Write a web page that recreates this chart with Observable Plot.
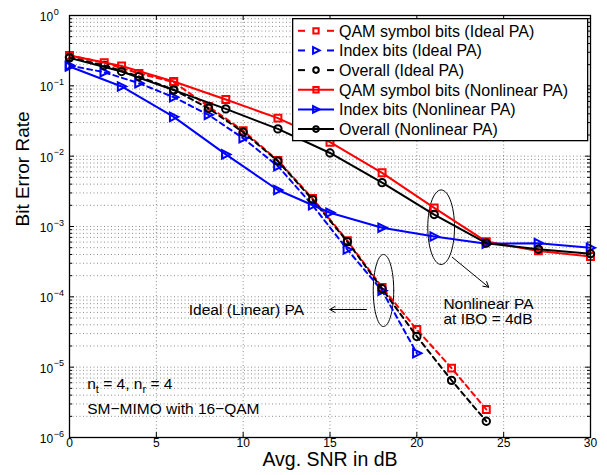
<!DOCTYPE html>
<html><head><meta charset="utf-8">
<script src="https://cdn.jsdelivr.net/npm/d3@7"></script>
<script src="https://cdn.jsdelivr.net/npm/@observablehq/plot@0.6"></script>
<style>
body{margin:0;background:#fff;}
#wrap{position:relative;width:607px;height:475px;font-family:"Liberation Sans",Arial,sans-serif;}
#legend{position:absolute;left:292px;top:18px;}
</style>
</head><body><div id="wrap"></div>
<script>
// ---- data ----
const snrIdeal = [0, 2, 4, 6, 8, 10, 12, 14, 16, 18, 20, 22, 24];
const qamIdeal = [0.27, 0.214, 0.150, 0.113, 0.051, 0.023, 0.0087, 0.0025, 6.3e-4, 1.36e-4, 3.43e-5, 9.7e-6, 2.5e-6];
const indexIdeal = [0.195, 0.156, 0.109, 0.069, 0.0387, 0.018, 0.0072, 0.0020, 4.7e-4, 1.22e-4, 1.58e-5];
const overallIdeal = [0.256, 0.195, 0.136, 0.088, 0.048, 0.0219, 0.0085, 0.0024, 6.1e-4, 1.3e-4, 2.73e-5, 6.5e-6, 1.7e-6];

const snrNonlinear = [0, 3, 6, 9, 12, 15, 18, 21, 24, 27, 30];
const qamNonlinear = [0.27, 0.191, 0.115, 0.064, 0.0347, 0.0158, 0.0058, 0.00184, 6.1e-4, 4.5e-4, 3.75e-4];
const indexNonlinear = [0.188, 0.098, 0.0362, 0.0106, 0.0033, 0.00157, 9.6e-4, 7.2e-4, 5.7e-4, 5.8e-4, 4.97e-4];
const overallNonlinear = [0.25, 0.16, 0.087, 0.047, 0.0244, 0.0111, 0.0042, 0.00148, 5.8e-4, 4.75e-4, 4.1e-4];

const seriesNames = [
  "QAM symbol bits (Ideal PA)", "Index bits (Ideal PA)", "Overall (Ideal PA)",
  "QAM symbol bits (Nonlinear PA)", "Index bits (Nonlinear PA)", "Overall (Nonlinear PA)"
];
const xTicks = [0, 5, 10, 15, 20, 25, 30];
const yExponents = [0, -1, -2, -3, -4, -5, -6];
const xLabel = "Avg. SNR in dB";
const yLabel = "Bit Error Rate";
const noteIdeal = "Ideal (Linear) PA";
const noteNonlinear1 = "Nonlinear PA";
const noteNonlinear2 = "at IBO = 4dB";
const noteSystem1 = "nt = 4, nr = 4";
const noteSystem2 = "SM\u2212MIMO with 16\u2212QAM";

// ---- styles ----
const triangleRight = {
  draw(ctx, size) {
    const w = Math.sqrt(size) * 1.15;
    ctx.moveTo(w * 0.55, 0);
    ctx.lineTo(-w * 0.45, -w * 0.5);
    ctx.lineTo(-w * 0.45, w * 0.5);
    ctx.closePath();
  }
};
const styles = [
  {color: "#ff0000", dash: "5,4", symbol: "square", r: 3.9},
  {color: "#0000ff", dash: "5,4", symbol: triangleRight, r: 4.1},
  {color: "#000000", dash: "5,4", symbol: "circle", r: 3.7},
  {color: "#ff0000", dash: null, symbol: "square", r: 3.9},
  {color: "#0000ff", dash: null, symbol: triangleRight, r: 4.1},
  {color: "#000000", dash: null, symbol: "circle", r: 3.7}
];
const seriesData = [
  [snrIdeal, qamIdeal], [snrIdeal, indexIdeal], [snrIdeal, overallIdeal],
  [snrNonlinear, qamNonlinear], [snrNonlinear, indexNonlinear], [snrNonlinear, overallNonlinear]
];
const series = seriesData.map(([xs, ys], i) => ({
  name: seriesNames[i], ...styles[i],
  rows: xs.slice(0, ys.length).map((x, j) => ({x, y: ys[j]}))
}));

// grid values
const yMajor = yExponents.map(e => Math.pow(10, e));
const yMinor = [];
for (let e = -6; e < 0; e++) for (let m = 2; m <= 9; m++) yMinor.push(m * Math.pow(10, e));

// annotation shapes (ellipses in data space)
function ellipse(cx, clog, rx, rlog) {
  const pts = [];
  for (let a = 0; a <= 360; a += 6) {
    const t = a * Math.PI / 180;
    pts.push({x: cx + rx * Math.cos(t), y: Math.pow(10, clog + rlog * Math.sin(t))});
  }
  return pts;
}
const ellipseIdeal = ellipse(18.08, -3.91, 0.59, 0.512);
const ellipseNonlinear = ellipse(21.4, -3.01, 0.77, 0.53);
const arrows = [
  {x1: 22.04, y1: Math.pow(10, -3.437), x2: 24.14, y2: Math.pow(10, -3.863)},
  {x1: 17.1, y1: Math.pow(10, -4.18), x2: 14.99, y2: Math.pow(10, -4.18)}
];
const notes = [
  {x: 21.53, y: Math.pow(10, -4.098), text: noteNonlinear1},
  {x: 21.53, y: Math.pow(10, -4.318), text: noteNonlinear2},
  {x: 6.87, y: Math.pow(10, -4.183), text: noteIdeal},
  {x: 1.02, y: Math.pow(10, -5.245), text: noteSystem1},
  {x: 1.02, y: Math.pow(10, -5.60), text: noteSystem2}
];

const W = 607, H = 475, ML = 69, MR = 17, MT = 15, MB = 38;
const FW = W - ML - MR, FH = H - MT - MB;

const marks = [
  Plot.ruleY(yMinor, {y: d => d, stroke: "#000", strokeOpacity: 0.45, strokeDasharray: "1,2.5"}),
  Plot.ruleY(yMajor.slice(1, -1), {y: d => d, stroke: "#000", strokeOpacity: 0.45, strokeDasharray: "1,2.5"}),
  Plot.ruleX(xTicks.slice(1, -1), {x: d => d, stroke: "#000", strokeOpacity: 0.45, strokeDasharray: "1,2.5"}),
  // inward ticks
  Plot.tickX(xTicks, {x: d => d, insetTop: FH - 5, stroke: "#000"}),
  Plot.tickX(xTicks, {x: d => d, insetBottom: FH - 5, stroke: "#000"}),
  Plot.tickY(yMajor, {y: d => d, insetRight: FW - 5, stroke: "#000"}),
  Plot.tickY(yMajor, {y: d => d, insetLeft: FW - 5, stroke: "#000"}),
  Plot.tickY(yMinor, {y: d => d, insetRight: FW - 3, stroke: "#000"}),
  Plot.tickY(yMinor, {y: d => d, insetLeft: FW - 3, stroke: "#000"}),
  // annotations
  Plot.line(ellipseIdeal, {x: "x", y: "y", stroke: "#000", strokeWidth: 1}),
  Plot.line(ellipseNonlinear, {x: "x", y: "y", stroke: "#000", strokeWidth: 1}),
  Plot.arrow(arrows, {x1: "x1", y1: "y1", x2: "x2", y2: "y2", stroke: "#000", strokeWidth: 1, headLength: 9}),
  Plot.text(notes, {x: "x", y: "y", text: "text", textAnchor: "start", fontSize: 15.5, fill: "#000"}),
];
for (const s of series) {
  marks.push(Plot.line(s.rows, {x: "x", y: "y", stroke: s.color, strokeWidth: 2, strokeDasharray: s.dash}));
  marks.push(Plot.dot(s.rows, {x: "x", y: "y", symbol: s.symbol, r: s.r, stroke: s.color, strokeWidth: 2, fill: "none"}));
}
marks.push(
  Plot.frame({stroke: "#000", strokeWidth: 1.3}),
  // tick labels
  Plot.text(xTicks, {x: d => d, text: d => String(d), frameAnchor: "bottom", dy: 9, fontSize: 12, fill: "#000"}),
  Plot.text(yMajor, {y: d => d, text: () => "10", frameAnchor: "left", dx: -16.3, dy: 1.5, textAnchor: "end", fontSize: 12, fill: "#000"}),
  Plot.text(yMajor, {y: d => d, text: (d, i) => String(yExponents[i]).replace("-", "\u2212"), frameAnchor: "left", dx: -15.8, dy: -3.6, textAnchor: "start", fontSize: 9, fill: "#000"}),
  Plot.text([xLabel], {text: d => d, frameAnchor: "bottom", dy: 28.8, fontSize: 19.5, fill: "#000"}),
  Plot.text([yLabel], {text: d => d, frameAnchor: "left", dx: -46.8, rotate: -90, fontSize: 19, fill: "#000"})
);

const chart = Plot.plot({
  width: W, height: H,
  marginLeft: ML, marginRight: MR, marginTop: MT, marginBottom: MB,
  style: {fontFamily: "'Liberation Sans', Arial, sans-serif", background: "#fff", overflow: "visible"},
  x: {domain: [0, 30], axis: null},
  y: {type: "log", domain: [1e-6, 1], axis: null},
  marks
});

// subscripts for n_t, n_r
d3.select(chart).selectAll("text").filter(function () { return this.textContent === noteSystem1; })
  .each(function () {
    const t = d3.select(this);
    t.text(null);
    const parts = [["n", 0], ["t", 1], [" = 4, n", -1], ["r", 1], [" = 4", -1]];
    parts.forEach(([s, sh]) => {
      const ts = t.append("tspan").text(s);
      if (sh === 1) ts.attr("dy", "4").attr("font-size", "11");
      if (sh === -1) ts.attr("dy", "-4");
    });
  });

const wrap = document.getElementById("wrap");
wrap.appendChild(chart);

// legend
const lg = d3.select(wrap).append("svg").attr("id", "legend").attr("width", 297).attr("height", 124);
lg.append("rect").attr("x", 0.65).attr("y", 0.65).attr("width", 295).attr("height", 122)
  .attr("fill", "#fff").attr("stroke", "#000").attr("stroke-width", 1.3);
series.forEach((s, i) => {
  const cy = 12.8 + i * 19.66;
  const g = lg.append("g");
  if (s.dash) {
    g.append("line").attr("x1", 6).attr("x2", 13).attr("y1", cy).attr("y2", cy).attr("stroke", s.color).attr("stroke-width", 2);
    g.append("line").attr("x1", 35).attr("x2", 42).attr("y1", cy).attr("y2", cy).attr("stroke", s.color).attr("stroke-width", 2);
  } else {
    g.append("line").attr("x1", 6).attr("x2", 42).attr("y1", cy).attr("y2", cy).attr("stroke", s.color).attr("stroke-width", 2);
  }
  const sym = typeof s.symbol === "string" ? (s.symbol === "square" ? d3.symbolSquare : d3.symbolCircle) : s.symbol;
  const size = Math.PI * (s.r - 0.9) * (s.r - 0.9);
  g.append("path").attr("d", d3.symbol(sym, size)()).attr("transform", `translate(24,${cy})`)
    .attr("fill", "none").attr("stroke", s.color).attr("stroke-width", 2);
  g.append("text").attr("x", 47).attr("y", cy + 5.8).attr("font-size", 16).attr("fill", "#000")
    .attr("font-family", "'Liberation Sans', Arial, sans-serif").text(s.name);
});
</script>
</body></html>
